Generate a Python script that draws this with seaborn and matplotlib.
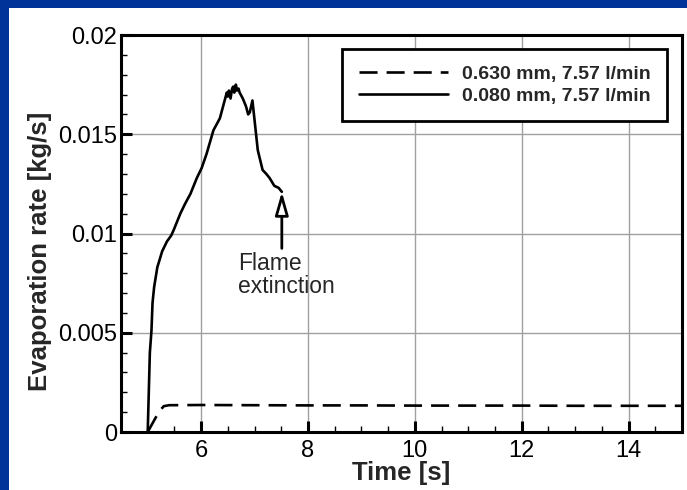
import matplotlib
matplotlib.use("Agg")
import matplotlib.pyplot as plt
from matplotlib.patches import Rectangle
from matplotlib.ticker import MultipleLocator, FuncFormatter
import seaborn as sns
import pandas as pd

# Evaporation rate vs time, two droplet sizes
t_coarse = [5.00, 5.21, 5.30, 5.40, 6.0, 7.0, 8.0, 9.0, 10.0, 11.0, 12.0, 13.0, 14.0, 15.0]
rate_coarse = [0.0, 0.00102, 0.00130, 0.00135, 0.00136, 0.00135, 0.00134, 0.00134,
               0.00133, 0.00133, 0.00133, 0.00132, 0.00132, 0.00132]

t_fine = [5.00, 5.04, 5.07, 5.09, 5.12, 5.18, 5.27, 5.36, 5.44, 5.49, 5.55, 5.61, 5.70,
          5.80, 5.92, 6.01, 6.10, 6.23, 6.35, 6.44, 6.48, 6.50, 6.52, 6.55, 6.58, 6.60,
          6.62, 6.65, 6.67, 6.70, 6.72, 6.78, 6.84, 6.88, 6.91, 6.96, 7.00, 7.06, 7.15,
          7.22, 7.28, 7.37, 7.45, 7.51]
rate_fine = [0.0, 0.0040, 0.0051, 0.0065, 0.0073, 0.0083, 0.0091, 0.0096, 0.0099, 0.0102,
             0.0106, 0.0110, 0.0115, 0.0120, 0.0128, 0.0133, 0.0140, 0.0152, 0.0158,
             0.0167, 0.0171, 0.0169, 0.0172, 0.0168, 0.0173, 0.0174, 0.0171, 0.0175,
             0.0172, 0.0173, 0.0171, 0.0168, 0.0164, 0.0160, 0.0161, 0.0167, 0.0157,
             0.0142, 0.0132, 0.0130, 0.0128, 0.0124, 0.0123, 0.0121]

labels = ["0.630 mm, 7.57 l/min", "0.080 mm, 7.57 l/min"]
x_ticks = [6, 8, 10, 12, 14]
y_ticks = [0, 0.005, 0.01, 0.015, 0.02]

sns.set_style("white")
plt.rcParams["font.family"] = ["Liberation Sans", "DejaVu Sans"]
plt.rcParams["lines.scale_dashes"] = False

W, H = 687, 490
fig = plt.figure(figsize=(W / 100, H / 100), dpi=100, facecolor="#003399")
fig.patches.append(Rectangle((9 / W, 0), 1, 1 - 8 / H, transform=fig.transFigure,
                             facecolor="white", edgecolor="none", zorder=-5))

ax = fig.add_axes([121 / W, (H - 432) / H, (682 - 121) / W, (432 - 35) / H])

df_coarse = pd.DataFrame({"t": t_coarse, "rate": rate_coarse})
df_fine = pd.DataFrame({"t": t_fine, "rate": rate_fine})

sns.lineplot(data=df_coarse, x="t", y="rate", color="black", lw=1.9,
             estimator=None, sort=False, label=labels[0], ax=ax)
ax.lines[-1].set_dashes([13, 6.5])
sns.lineplot(data=df_fine, x="t", y="rate", color="black", lw=1.9,
             estimator=None, sort=False, label=labels[1], ax=ax)

# axes styling
ax.set_xlim(4.5, 15)
ax.set_ylim(0, 0.02)
ax.set_xticks(x_ticks)
ax.set_yticks(y_ticks)
ax.xaxis.set_minor_locator(MultipleLocator(0.5))
ax.yaxis.set_minor_locator(MultipleLocator(0.001))
ax.yaxis.set_major_formatter(FuncFormatter(lambda v, p: "%g" % v))
ax.grid(True, which="major", color="#a0a0a0", lw=1.0)
for s in ax.spines.values():
    s.set_linewidth(2.2)
    s.set_color("black")
ax.tick_params(which="major", direction="in", length=8, width=2.2, labelsize=17,
               colors="black")
ax.tick_params(which="minor", direction="in", length=4.5, width=1.0, colors="black")
ax.tick_params(axis="x", which="both", pad=6, top=False, bottom=True)
ax.tick_params(axis="y", which="both", pad=3, right=False, left=True)

ax.set_xlabel("Time [s]", fontsize=18.5, fontweight="bold")
ax.set_ylabel("Evaporation rate [kg/s]", fontsize=18.5, fontweight="bold")
ax.xaxis.set_label_coords(0.5, -0.073)
ax.yaxis.set_label_coords(-0.123, 0.456)

# flame extinction marker
ax.annotate("", xy=(7.51, 0.0121), xytext=(7.51, 0.00925),
            arrowprops=dict(arrowstyle="-|>,head_length=1.4,head_width=0.4",
                            fc="white", ec="black", lw=2, shrinkA=0, shrinkB=0))
ax.text(6.685, 0.00905, "Flame\nextinction", fontsize=16.5, ha="left", va="top",
        linespacing=1.0)

leg = ax.legend(loc="upper right", bbox_to_anchor=(667 / W, 1 - 49 / H),
                bbox_transform=fig.transFigure, fancybox=False, framealpha=1,
                edgecolor="black", prop={"weight": "bold", "size": 14},
                handlelength=4.6, handletextpad=0.7, borderpad=0.85,
                labelspacing=0.2, borderaxespad=0)
leg.get_frame().set_linewidth(2)

fig.savefig("out.png", dpi=100, facecolor=fig.get_facecolor())
